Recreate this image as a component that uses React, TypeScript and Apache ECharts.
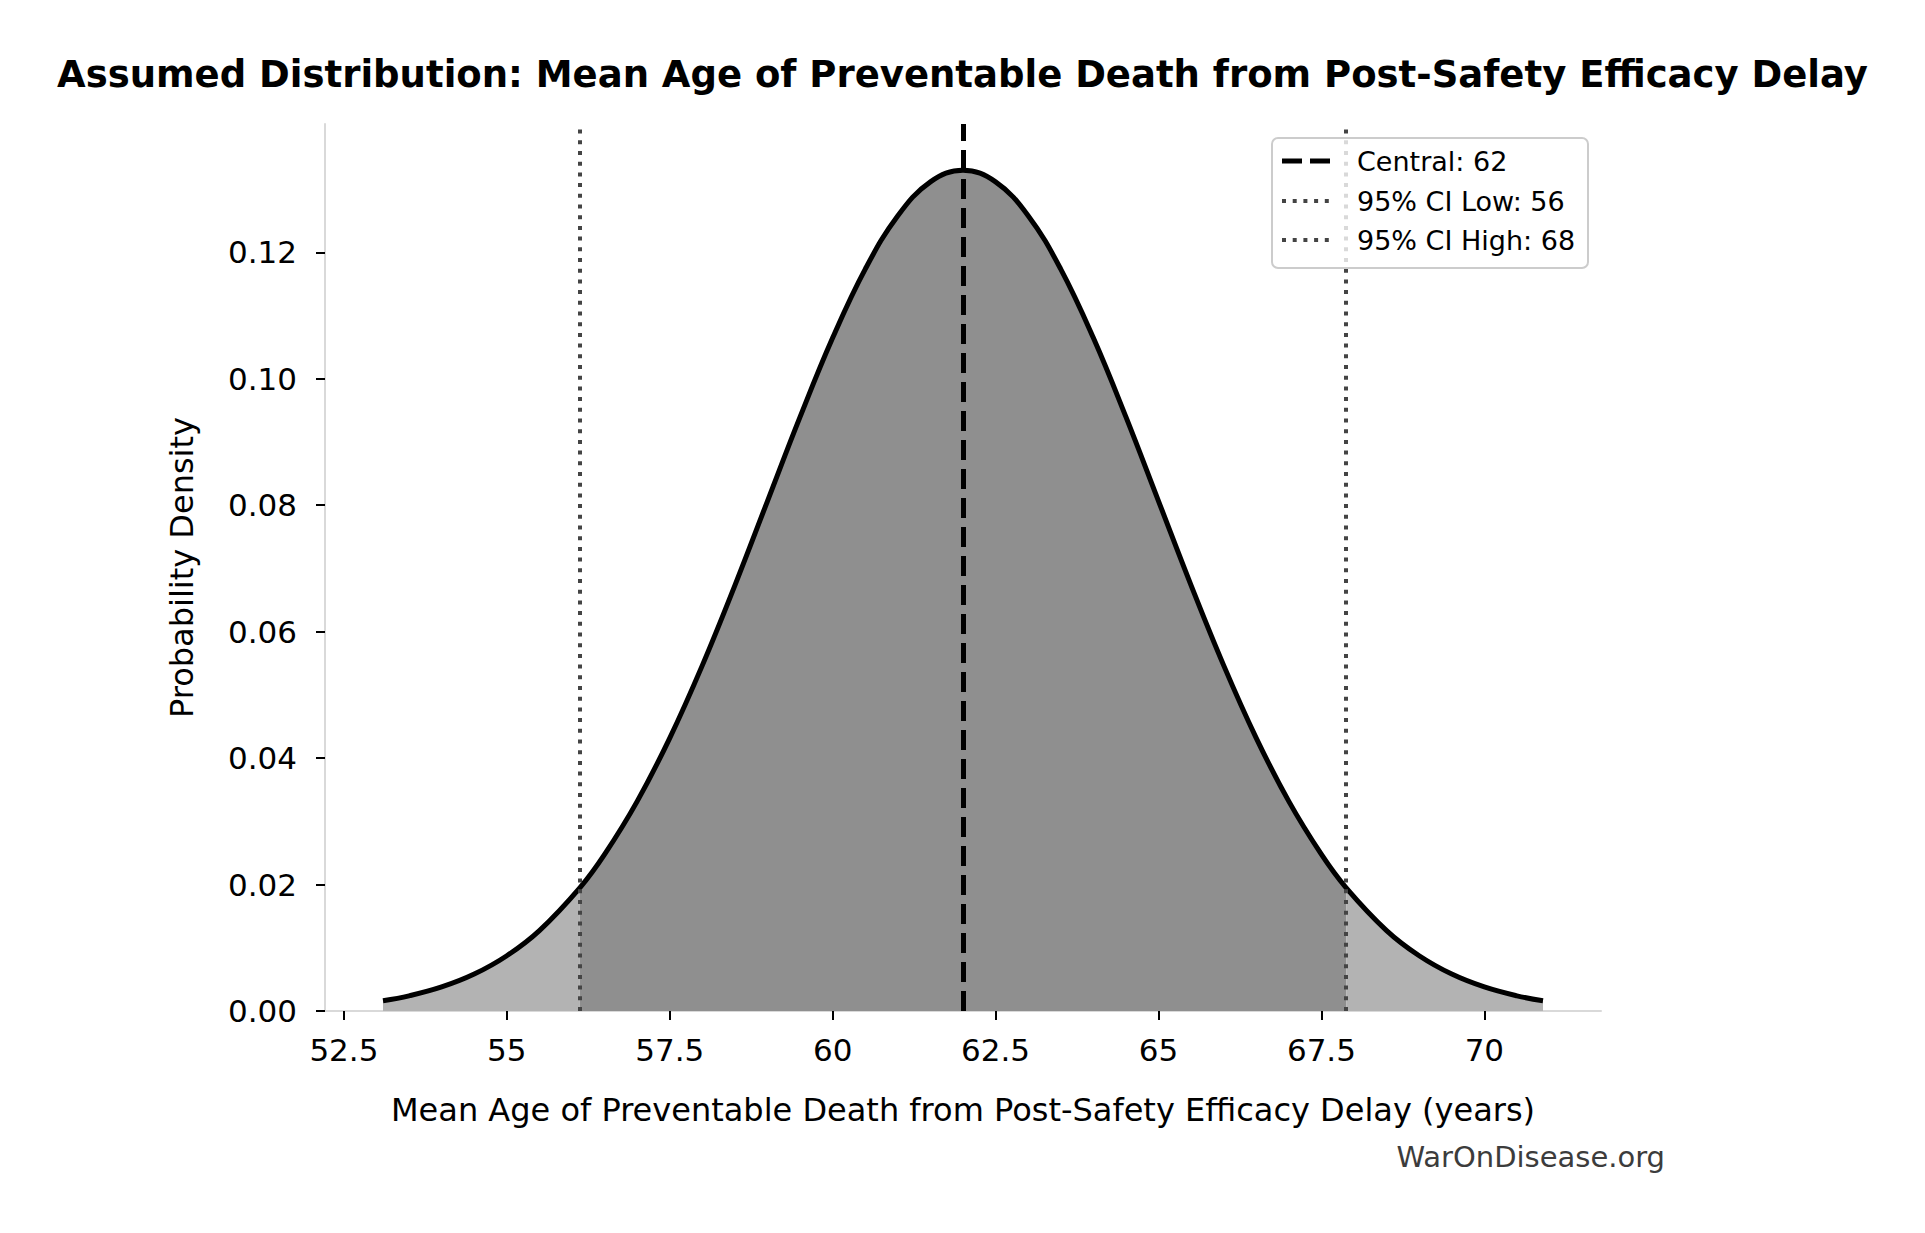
import React, { useEffect, useRef } from "react";
import * as echarts from "echarts";

const TITLE = "Assumed Distribution: Mean Age of Preventable Death from Post-Safety Efficacy Delay";
const X_NAME = "Mean Age of Preventable Death from Post-Safety Efficacy Delay (years)";
const Y_NAME = "Probability Density";
const WATERMARK = "WarOnDisease.org";

const AGES = [53.1, 53.5, 54, 54.5, 55, 55.5, 56.12, 56.5, 57, 57.5, 58, 58.5, 59, 59.5, 60, 60.5, 61, 61.5, 62, 62.5, 63, 63.5, 64, 64.5, 65, 65.5, 66, 66.5, 67, 67.5, 67.88, 68.5, 69, 69.5, 70, 70.5, 70.9];
const DENSITY = [0.00163, 0.0024, 0.0038, 0.00584, 0.00874, 0.01272, 0.01948, 0.02477, 0.03316, 0.04317, 0.05467, 0.06733, 0.08066, 0.09397, 0.10648, 0.11735, 0.12579, 0.13115, 0.13298, 0.13115, 0.12579, 0.11735, 0.10648, 0.09397, 0.08066, 0.06733, 0.05467, 0.04317, 0.03316, 0.02477, 0.01948, 0.01272, 0.00874, 0.00584, 0.0038, 0.0024, 0.00163];

const CENTRAL = 62;
const CI_LOW = 56.12;
const CI_HIGH = 67.88;

const X_TICKS = [52.5, 55, 57.5, 60, 62.5, 65, 67.5, 70];
const Y_TICKS = [0, 0.02, 0.04, 0.06, 0.08, 0.1, 0.12];
const X_MIN = 52.21;
const X_MAX = 71.79;
const Y_MAX = 0.1403;

const LEGEND_LABELS = ["Central: 62", "95% CI Low: 56", "95% CI High: 68"];

const FONT = "DejaVu Sans";

export default function App() {
  const ref = useRef<HTMLDivElement>(null);

  useEffect(() => {
    if (!ref.current) return;
    const chart = echarts.init(ref.current, null, { renderer: "svg" });

    const pts = AGES.map((a, i) => [a, DENSITY[i]]);
    const iLow = AGES.indexOf(CI_LOW);
    const iHigh = AGES.indexOf(CI_HIGH);
    const leftTail = pts.slice(0, iLow + 1);
    const center = pts.slice(iLow, iHigh + 1);
    const rightTail = pts.slice(iHigh);

    const areaSeries = (data: number[][], color: string) => ({
      type: "line",
      data,
      smooth: 0.4,
      symbol: "none",
      lineStyle: { width: 0, opacity: 0 },
      areaStyle: { color, opacity: 1 },
      silent: true,
      z: 2,
    });

    const legendX = 1272;
    const legendY = 138;
    const rowYs = [161, 201, 240];

    chart.setOption({
      animation: false,
      backgroundColor: "#ffffff",
      title: {
        text: TITLE,
        left: "center",
        top: 51,
        textStyle: { fontFamily: FONT, fontSize: 37, fontWeight: "bold", color: "#000" },
      },
      grid: { left: 325, right: 324, top: 124, bottom: 222, containLabel: false, outerBoundsMode: "none" },
      xAxis: {
        type: "value",
        min: X_MIN,
        max: X_MAX,
        name: X_NAME,
        nameLocation: "middle",
        nameGap: 83,
        nameTextStyle: { fontFamily: FONT, fontSize: 32, color: "#000" },
        axisLine: { show: true, lineStyle: { color: "#d9d9d9", width: 2 } },
        axisTick: { show: true, length: 9, lineStyle: { color: "#000", width: 2 }, customValues: X_TICKS },
        axisLabel: {
          customValues: X_TICKS,
          fontFamily: FONT,
          fontSize: 31,
          color: "#000",
          margin: 23,
          formatter: (v: number) => String(v),
        },
        splitLine: { show: false },
      },
      yAxis: {
        type: "value",
        min: 0,
        max: Y_MAX,
        name: Y_NAME,
        nameLocation: "middle",
        nameGap: 127,
        nameRotate: 90,
        nameTextStyle: { fontFamily: FONT, fontSize: 32, color: "#000" },
        axisLine: { show: true, lineStyle: { color: "#d9d9d9", width: 2 } },
        axisTick: { show: true, length: 9, lineStyle: { color: "#000", width: 2 }, customValues: Y_TICKS },
        axisLabel: {
          customValues: Y_TICKS,
          fontFamily: FONT,
          fontSize: 31,
          color: "#000",
          margin: 28,
          formatter: (v: number) => v.toFixed(2),
        },
        splitLine: { show: false },
      },
      series: [
        areaSeries(leftTail, "#b3b3b3"),
        {
          ...areaSeries(center, "#8f8f8f"),
          markLine: {
            silent: true,
            symbol: ["none", "none"],
            label: { show: false },
            z: 4,
            data: [
              { xAxis: CENTRAL, lineStyle: { type: [20, 9], color: "#000", width: 5 } },
              { xAxis: CI_LOW, lineStyle: { type: [4, 6.7], color: "#444444", width: 4 } },
              { xAxis: CI_HIGH, lineStyle: { type: [4, 6.7], color: "#444444", width: 4 } },
            ],
          },
        },
        areaSeries(rightTail, "#b3b3b3"),
        {
          type: "line",
          data: pts,
          smooth: 0.4,
          symbol: "none",
          lineStyle: { color: "#000", width: 5 },
          silent: true,
          z: 3,
        },
      ],
      graphic: [
        {
          type: "rect",
          z: 10,
          shape: { x: legendX, y: legendY, width: 316, height: 130, r: 6 },
          style: { fill: "rgba(255,255,255,0.8)", stroke: "#cccccc", lineWidth: 2 },
        },
        {
          type: "line",
          z: 11,
          shape: { x1: 1282, y1: rowYs[0], x2: 1330, y2: rowYs[0] },
          style: { stroke: "#000", lineWidth: 5, lineDash: [20, 8] },
        },
        {
          type: "line",
          z: 11,
          shape: { x1: 1282, y1: rowYs[1], x2: 1330, y2: rowYs[1] },
          style: { stroke: "#444444", lineWidth: 4, lineDash: [4, 6.7] },
        },
        {
          type: "line",
          z: 11,
          shape: { x1: 1282, y1: rowYs[2], x2: 1330, y2: rowYs[2] },
          style: { stroke: "#444444", lineWidth: 4, lineDash: [4, 6.7] },
        },
        ...LEGEND_LABELS.map((t, i) => ({
          type: "text",
          z: 11,
          x: 1357,
          y: rowYs[i],
          style: { text: t, fontFamily: FONT, fontSize: 27, fill: "#000", textVerticalAlign: "middle", textAlign: "left" },
        })),
        {
          type: "text",
          z: 11,
          x: 1665,
          y: 1157,
          style: { text: WATERMARK, fontFamily: FONT, fontSize: 29, fill: "#3c3c3c", textVerticalAlign: "middle", textAlign: "right" },
        },
      ],
    });

    return () => chart.dispose();
  }, []);

  return <div ref={ref} style={{ position: "absolute", left: 0, top: 0, width: 1925, height: 1233 }} />;
}
